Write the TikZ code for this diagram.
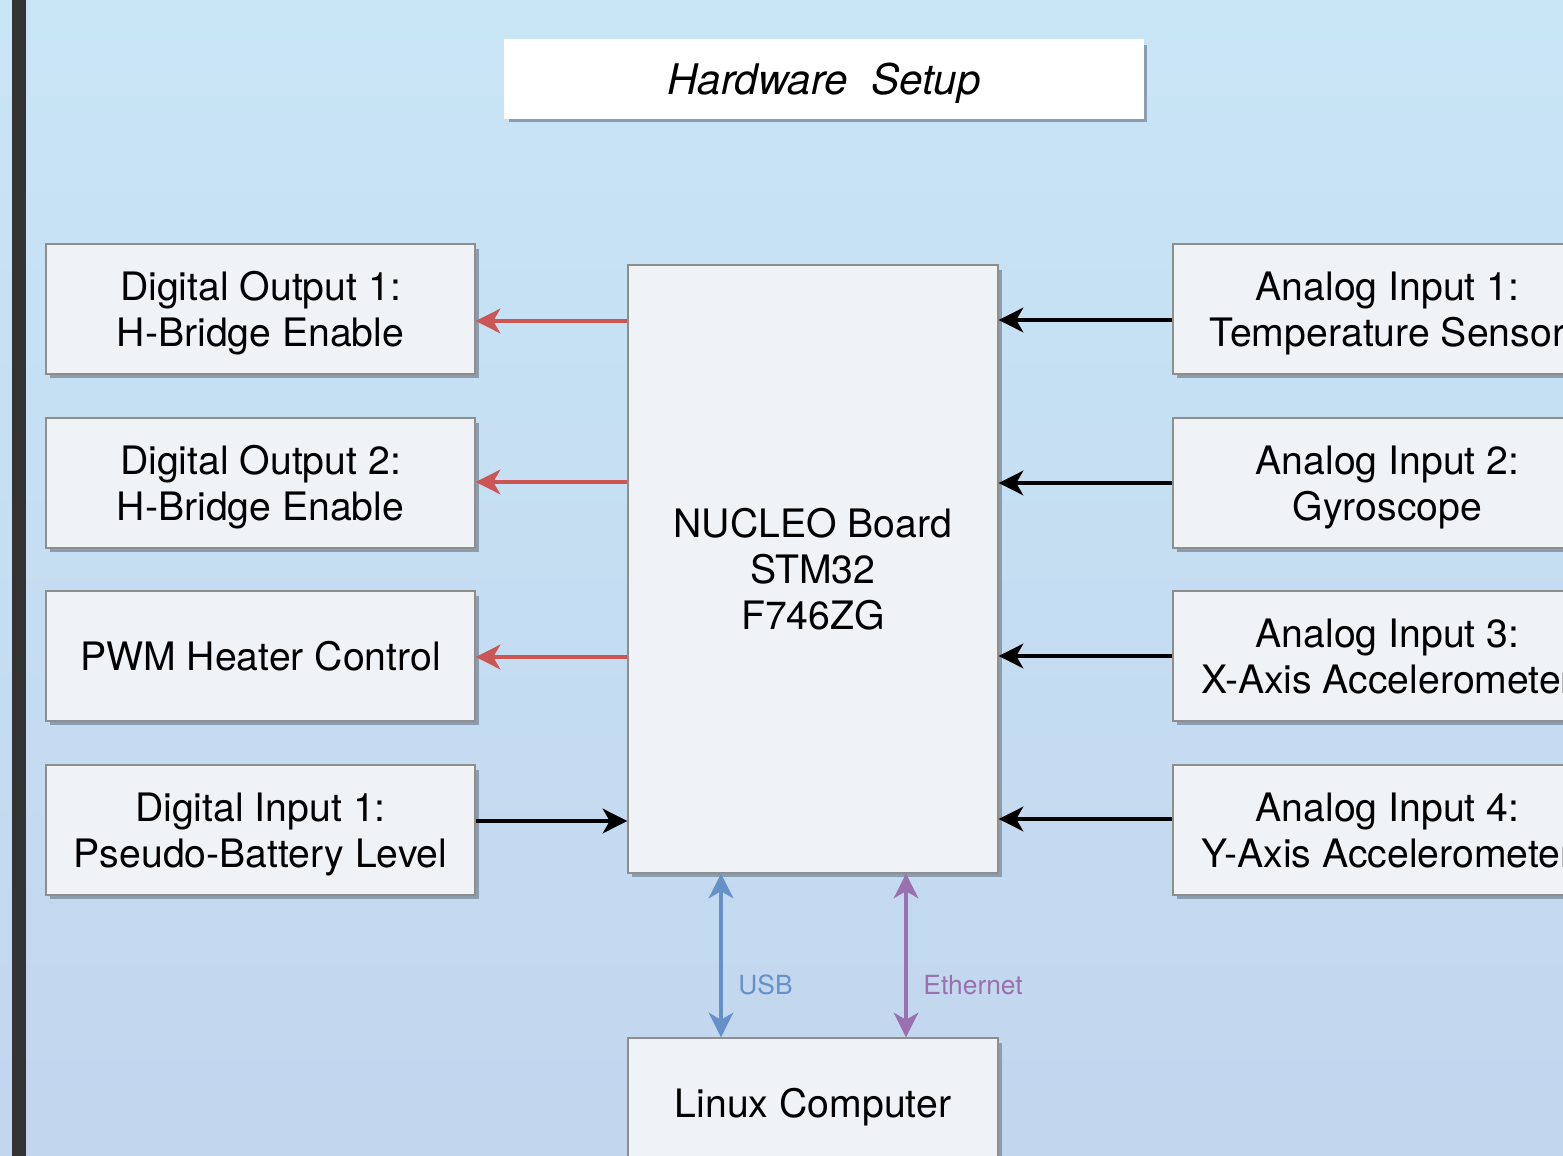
\documentclass[tikz,border=0pt]{standalone}
\usepackage{fontspec}
\setmainfont{TeX Gyre Heros}
\usepackage{tikz}
\usetikzlibrary{arrows.meta,positioning,shadows}
\definecolor{bgtop}{HTML}{C8E5F6}
\definecolor{bgbot}{HTML}{C2D6EE}
\definecolor{stripc}{HTML}{333333}
\definecolor{boxfill}{HTML}{F0F3F5}
\definecolor{boxline}{HTML}{8E8E8E}
\definecolor{shadowc}{HTML}{8C9DB0}
\definecolor{outred}{HTML}{CC5555}
\definecolor{usbblue}{HTML}{6690C8}
\definecolor{ethpurple}{HTML}{9A70AE}

\begin{document}
\begin{tikzpicture}[x=0.02cm, y=-0.02cm,
  box/.style={draw=boxline, line width=0.8pt, fill=boxfill, align=center,
              minimum width=8.58cm, minimum height=2.6cm, text depth=0pt,
              font=\fontsize{22.3}{26}\selectfont,
              drop shadow={shadow xshift=0.08cm, shadow yshift=-0.09cm, fill=shadowc, opacity=1}},
  arr/.style={-{Stealth[length=14pt, width=14pt, inset=4pt]}, line width=2pt},
  dual/.style={{Stealth[length=14pt, width=14pt, inset=4pt]}-{Stealth[length=14pt, width=14pt, inset=4pt]}, line width=1.8pt},
  lbl/.style={right, xshift=0.2cm, font=\fontsize{15}{18}\selectfont},
]
\useasboundingbox (0,0) rectangle (1563,1156);
\clip (0,0) rectangle (1563,1156);
% background
\fill[top color=bgtop, bottom color=bgbot] (0,0) rectangle (1563,1156);
\fill[stripc] (12,0) rectangle (26,1156);

% title
\node[box, draw=white, fill=white, minimum width=12.76cm, minimum height=1.56cm,
      font=\fontsize{24}{28}\selectfont\itshape] (title) at (824,79) {Hardware\ \ Setup};

% board
\node[box, minimum width=7.4cm, minimum height=12.16cm] (nucleo) at (813,569) {NUCLEO Board\\STM32\\F746ZG};
\node[box, minimum width=7.4cm] (linux) at (813,1103) {Linux Computer};

% left side
\foreach \i/\y/\name in {1/309/{Digital Output 1:\\H-Bridge Enable}, 2/483/{Digital Output 2:\\H-Bridge Enable},
                         3/656/{PWM Heater Control}, 4/830/{Digital Input 1:\\Pseudo-Battery Level}} {
  \node[box] (L\i) at (260.5,\y) {\name};
}
% right side
\foreach \i/\y/\name in {1/309/{Analog Input 1:\\Temperature Sensor}, 2/483/{Analog Input 2:\\Gyroscope},
                         3/656/{Analog Input 3:\\X-Axis Accelerometer}, 4/830/{Analog Input 4:\\Y-Axis Accelerometer}} {
  \node[box] (R\i) at (1387.5,\y) {\name};
}

% outputs
\foreach \i/\y in {1/321, 2/482, 3/657} {
  \draw[arr, outred] (nucleo.west |- 0,\y) -- (L\i.east |- 0,\y);
}
\draw[arr] (L4.east |- 0,821) -- (nucleo.west |- 0,821);
% inputs
\foreach \i/\y in {1/320, 2/483, 3/656, 4/819} {
  \draw[arr] (R\i.west |- 0,\y) -- (nucleo.east |- 0,\y);
}

% links to the computer
\draw[dual, usbblue] (nucleo.south -| 721,0) -- node[lbl, pos=0.68, text=usbblue] {USB} (linux.north -| 721,0);
\draw[dual, ethpurple] (nucleo.south -| 906,0) -- node[lbl, pos=0.68, text=ethpurple] {Ethernet} (linux.north -| 906,0);
\end{tikzpicture}
\end{document}
